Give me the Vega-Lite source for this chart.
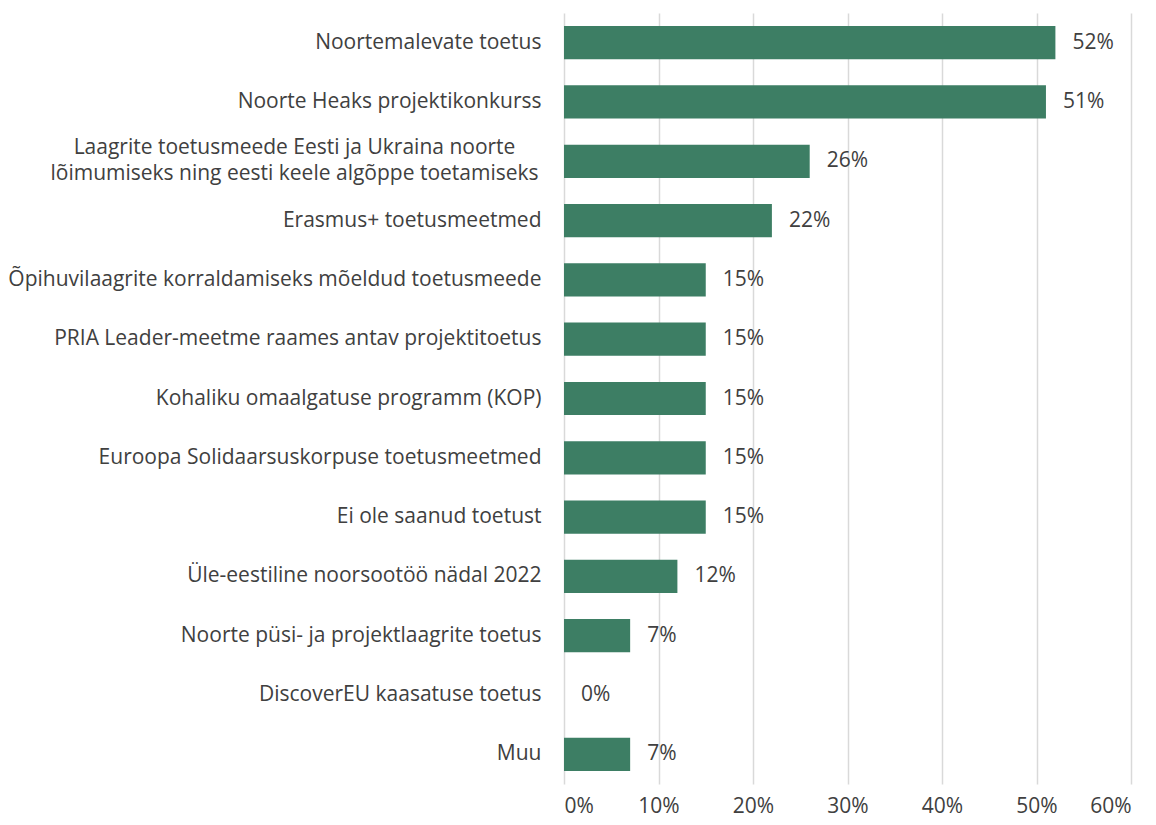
{
  "$schema": "https://vega.github.io/schema/vega-lite/v6.json",
  "width": 567,
  "height": 771,
  "autosize": "none",
  "padding": {"left": 564, "top": 13, "right": 25, "bottom": 41},
  "background": "white",
  "data": {
    "values": [
      {"kategooria": "Noortemalevate toetus", "osakaal": 0.52, "silt": "52%"},
      {"kategooria": "Noorte Heaks projektikonkurss", "osakaal": 0.51, "silt": "51%"},
      {"kategooria": "Laagrite toetusmeede Eesti ja Ukraina noorte|lõimumiseks ning eesti keele algõppe toetamiseks", "osakaal": 0.26, "silt": "26%"},
      {"kategooria": "Erasmus+ toetusmeetmed", "osakaal": 0.22, "silt": "22%"},
      {"kategooria": "Õpihuvilaagrite korraldamiseks mõeldud toetusmeede", "osakaal": 0.15, "silt": "15%"},
      {"kategooria": "PRIA Leader-meetme raames antav projektitoetus", "osakaal": 0.15, "silt": "15%"},
      {"kategooria": "Kohaliku omaalgatuse programm (KOP)", "osakaal": 0.15, "silt": "15%"},
      {"kategooria": "Euroopa Solidaarsuskorpuse toetusmeetmed", "osakaal": 0.15, "silt": "15%"},
      {"kategooria": "Ei ole saanud toetust", "osakaal": 0.15, "silt": "15%"},
      {"kategooria": "Üle-eestiline noorsootöö nädal 2022", "osakaal": 0.12, "silt": "12%"},
      {"kategooria": "Noorte püsi- ja projektlaagrite toetus", "osakaal": 0.07, "silt": "7%"},
      {"kategooria": "DiscoverEU kaasatuse toetus", "osakaal": 0.0, "silt": "0%"},
      {"kategooria": "Muu", "osakaal": 0.07, "silt": "7%"}
    ]
  },
  "encoding": {
    "y": {
      "field": "kategooria",
      "type": "nominal",
      "sort": null,
      "scale": {"paddingInner": 0.44, "paddingOuter": 0.22},
      "axis": {
        "title": null,
        "domain": false,
        "ticks": false,
        "grid": false,
        "labelPadding": {"condition": {"test": "indexof(datum.value, '|') >= 0", "value": 270}, "value": 23},
        "labelAlign": {"condition": {"test": "indexof(datum.value, '|') >= 0", "value": "center"}, "value": "right"},
        "labelFontSize": 21,
        "labelFont": "Open Sans",
        "labelColor": "#404040",
        "labelLimit": 600,
        "labelLineHeight": 26,
        "labelOffset": {"condition": {"test": "indexof(datum.value, '|') >= 0", "value": -13}, "value": 0},
        "labelExpr": "split(datum.label, '|')"
      }
    },
    "x": {
      "field": "osakaal",
      "type": "quantitative",
      "scale": {"domain": [0, 0.6], "nice": false},
      "axis": {
        "title": null,
        "format": ".0%",
        "values": [0, 0.1, 0.2, 0.3, 0.4, 0.5, 0.6],
        "domain": false,
        "ticks": false,
        "grid": true,
        "gridColor": "#d9d9d9",
        "gridWidth": 1.5,
        "labelPadding": 11,
        "labelFontSize": 21,
        "labelFont": "Open Sans",
        "labelColor": "#404040"
      }
    }
  },
  "layer": [
    {
      "mark": {"type": "bar", "color": "#3d7e64"}
    },
    {
      "mark": {"type": "text", "align": "left", "baseline": "middle", "dx": 17, "font": "Open Sans", "fontSize": 21, "color": "#404040"},
      "encoding": {"text": {"field": "silt"}}
    }
  ],
  "config": {"view": {"stroke": null}}
}
